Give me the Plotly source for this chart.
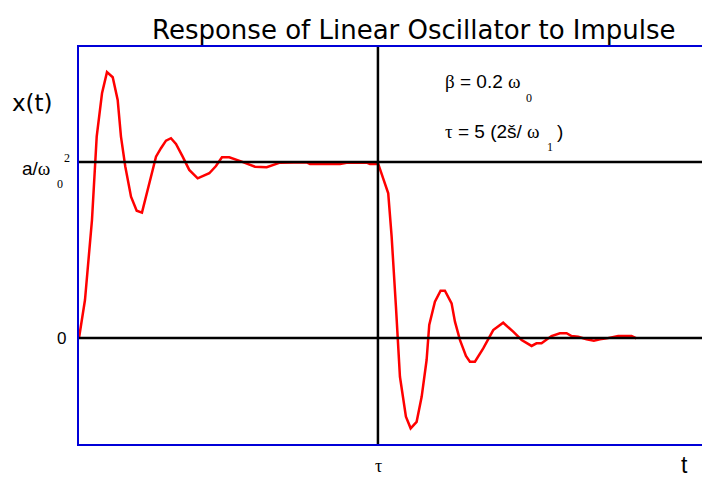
import plotly.graph_objects as go

# time in units of the damped period 2*pi/omega_1 (tau = 5 periods)
t_period = [0.000, 0.100, 0.217, 0.296, 0.385, 0.468, 0.564, 0.647, 0.702, 0.774,
            0.870, 0.965, 1.053, 1.149, 1.288, 1.371, 1.455, 1.538, 1.622, 1.734,
            1.844, 1.985, 2.068, 2.179, 2.291, 2.391, 2.513, 2.625, 2.721, 2.943,
            3.139, 3.361, 3.808, 3.863, 4.365, 4.476, 4.811, 4.866, 5.005, 5.172,
            5.229, 5.301, 5.368, 5.468, 5.547, 5.647, 5.731, 5.814, 5.858, 5.953,
            6.048, 6.120, 6.232, 6.288, 6.371, 6.472, 6.538, 6.622, 6.761, 6.928,
            7.095, 7.262, 7.403, 7.570, 7.652, 7.736, 7.903, 8.043, 8.155, 8.238,
            8.349, 8.489, 8.612, 8.712, 8.824, 9.018, 9.242, 9.324]
# response in units of a/omega_0^2
x_response = [0.000, 0.216, 0.670, 1.144, 1.390, 1.510, 1.481, 1.352, 1.144, 0.974,
              0.803, 0.723, 0.712, 0.841, 1.030, 1.078, 1.121, 1.135, 1.102, 1.030,
              0.955, 0.907, 0.920, 0.936, 0.977, 1.027, 1.027, 1.015, 1.002, 0.973,
              0.970, 0.996, 0.998, 0.989, 0.989, 0.996, 0.996, 0.989, 0.989, 0.822,
              0.576, 0.178, -0.220, -0.447, -0.513, -0.476, -0.334, -0.125, 0.074, 0.206,
              0.269, 0.269, 0.197, 0.093, -0.011, -0.102, -0.135, -0.135, -0.059, 0.045,
              0.087, 0.036, -0.011, -0.045, -0.030, -0.030, 0.011, 0.027, 0.027, 0.011,
              0.007, -0.007, -0.015, -0.007, -0.002, 0.011, 0.011, -0.002]

tau = 5.0
steady_level = 1.0
zero_level = 0.0
x_range = [0, 10.42]
y_range = [-0.602, 1.653]

SANS = "Liberation Sans, Arial, sans-serif"
WIDE = "DejaVu Sans, Verdana, sans-serif"
SERIF = "Liberation Serif, Times New Roman, serif"
BLUE = "#0000d8"

fig = go.Figure()
fig.add_trace(go.Scatter(x=t_period, y=x_response, mode="lines",
                         line=dict(color="#ff0000", width=2.5), hoverinfo="skip",
                         showlegend=False))

for lvl in (zero_level, steady_level):
    fig.add_shape(type="line", xref="paper", yref="y", x0=0, x1=1, y0=lvl, y1=lvl,
                  line=dict(color="black", width=2.5))
fig.add_shape(type="line", xref="x", yref="paper", x0=tau, x1=tau, y0=0, y1=1,
              line=dict(color="black", width=2.5))

def ann(text, x, y, size, family=SANS, xanchor="center", yanchor="middle"):
    fig.add_annotation(text=text, x=x, y=y, xref="paper", yref="paper",
                       showarrow=False, xanchor=xanchor, yanchor=yanchor,
                       font=dict(size=size, family=family, color="black"))

sym = lambda s: f"<span style='font-family:{SERIF}'>{s}</span>"

ann("Response of Linear Oscillator to Impulse", 0.537, 1.043, 26, family=WIDE)
ann("x(t)", -0.0754, 0.859, 23, family=WIDE)
ann("a/" + sym("ω"), -0.0433, 0.693, 19, xanchor="right")
ann("0", -0.0313, 0.655, 12, family=SERIF)
ann("2", -0.0185, 0.720, 12, family=SERIF)
ann("0", -0.0273, 0.2645, 17)
ann("τ", 0.4815, -0.056, 18, family=SERIF)
ann("t", 0.9727, -0.052, 23)
ann(sym("β") + " = 0.2 " + sym("ω"), 0.5843, 0.913, 19, xanchor="left")
ann("0", 0.7231, 0.8715, 12, family=SERIF)
ann(sym("τ") + " = 5 (2š/ " + sym("ω"), 0.5843, 0.788, 19, xanchor="left")
ann("1", 0.7568, 0.749, 12, family=SERIF)
ann(")", 0.764, 0.788, 19, xanchor="left")

fig.update_layout(
    width=702, height=477,
    margin=dict(l=79, r=0, t=47, b=33),
    paper_bgcolor="white", plot_bgcolor="white",
    xaxis=dict(range=x_range, showgrid=False, zeroline=False, showticklabels=False,
               ticks="", showline=True, linecolor=BLUE, linewidth=2, mirror=True),
    yaxis=dict(range=y_range, showgrid=False, zeroline=False, showticklabels=False,
               ticks="", showline=True, linecolor=BLUE, linewidth=2),
    showlegend=False,
)

fig.write_html("out.html", config={"displayModeBar": False},
               post_script="document.body.style.margin='0';document.body.style.overflow='hidden';")
